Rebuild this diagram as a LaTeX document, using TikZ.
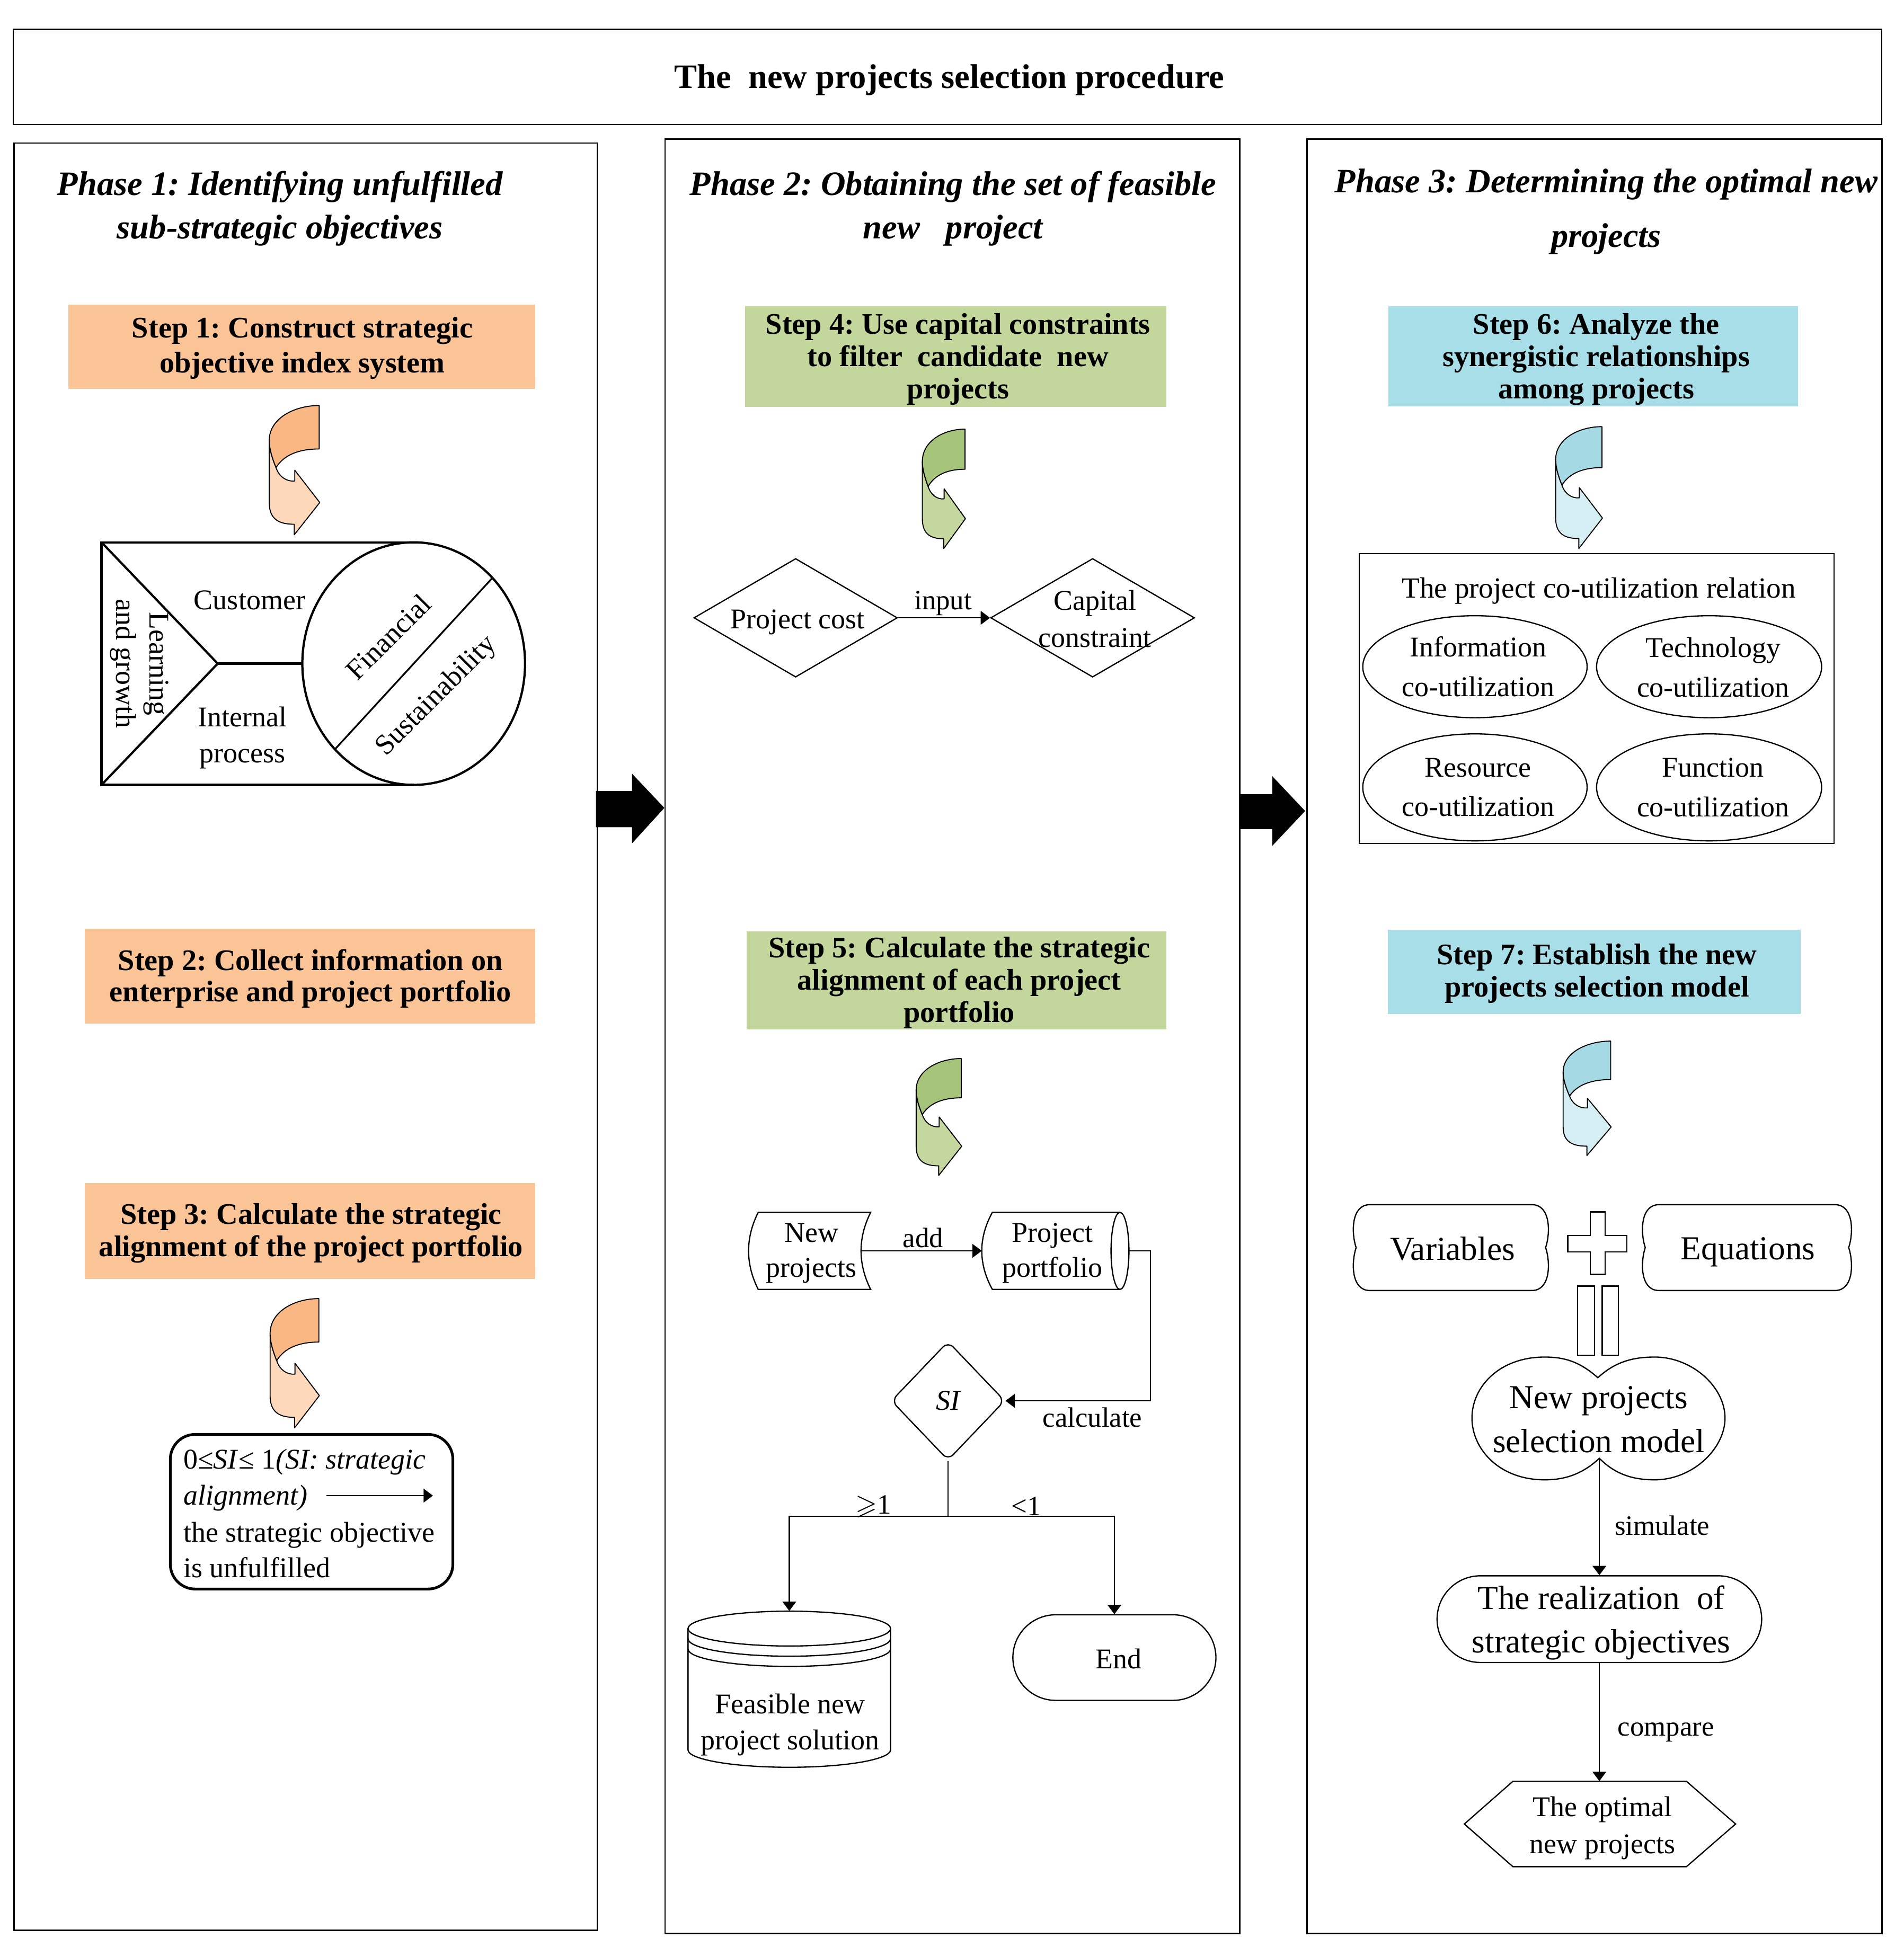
\documentclass[tikz,border=0pt]{standalone}
\usepackage{fontspec}
\setmainfont{Liberation Serif}
\usepackage{amssymb}
\usetikzlibrary{arrows.meta,shapes.geometric,shapes.misc}
\frenchspacing
\definecolor{orgBox}{HTML}{FBC497}
\definecolor{orgD}{HTML}{F9B784}
\definecolor{orgL}{HTML}{FDD8BB}
\definecolor{grnBox}{HTML}{C3D69B}
\definecolor{grnD}{HTML}{A6C47A}
\definecolor{grnL}{HTML}{C4D79E}
\definecolor{bluBox}{HTML}{A8DEE8}
\definecolor{bluD}{HTML}{A5D9E3}
\definecolor{bluL}{HTML}{D4EEF3}
\tikzset{
  phasebox/.style={draw, line width=1.2pt, inner sep=0pt},
  stepbox/.style={fill=#1, inner sep=0pt},
  steptext/.style={inner sep=0pt, align=center, font=\fontsize{24}{26}\selectfont\bfseries},
  phtitle/.style={align=center, inner sep=0pt, font=\fontsize{27.5}{35}\selectfont\bfseries\itshape},
  txt/.style={align=center, inner sep=0pt, font=\fontsize{23}{30}\selectfont},
  big/.style={align=center, inner sep=0pt, font=\fontsize{27}{35}\selectfont},
  lbl/.style={inner sep=0pt, font=\fontsize{22.5}{27}\selectfont},
  lw/.style={line width=1pt},
  conn/.style={line width=0.9pt},
  arr/.style={line width=0.9pt, -{Triangle[length=7.5pt,width=11pt]}},
  strat/.style={line width=1.8pt},
}
\newcommand{\bendarrow}[6]{%
\begin{scope}[shift={(#1,#2)}, xscale=#3, yscale=#4, line width=0.8pt, line join=round]
\filldraw[fill=#6] (0.01,0.27) -- (0.01,0.75) .. controls (0.01,0.88) and (0.2,0.918) .. (0.5,0.918) -- (0.5,1) -- (1,0.75) -- (0.51,0.5) -- (0.51,0.584) .. controls (0.35,0.59) and (0.2,0.55) .. (0.143,0.48) .. controls (0.06,0.4) and (0.01,0.33) .. cycle;
\filldraw[fill=#5] (0.99,0) -- (0.99,0.336) .. controls (0.6,0.336) and (0.3,0.38) .. (0.143,0.48) .. controls (0.06,0.4) and (0.01,0.33) .. (0.01,0.27) .. controls (0.01,0.1) and (0.5,0) .. cycle;
\end{scope}}
\newcommand{\notchbox}[4]{%
\draw[lw] ({#1+14},#3) -- ({#2-14},#3)
 .. controls ({#2+1},#3) and ({#2+1},{(#3+#4)/2-12}) .. ({#2-3},{(#3+#4)/2})
 .. controls ({#2+1},{(#3+#4)/2+12}) and ({#2+1},#4) .. ({#2-14},#4)
 -- ({#1+14},#4)
 .. controls ({#1-1},#4) and ({#1-1},{(#3+#4)/2+12}) .. ({#1+3},{(#3+#4)/2})
 .. controls ({#1-1},{(#3+#4)/2-12}) and ({#1-1},#3) .. cycle;}
\begin{document}
\begin{tikzpicture}[x=1pt,y=-1pt]
\useasboundingbox (0,0) rectangle (1530,1565.3);
\fill[white] (0,0) rectangle (1530,1565.3);

% title
\node[draw, line width=1pt, minimum width=1501.7pt, minimum height=76.3pt, inner sep=0pt] (title) at (761.55,61.85) {};
\node[inner sep=0pt, font=\fontsize{27.5}{33}\selectfont\bfseries] (titletxt) at (763,64.5) {The\ \ new projects selection procedure};

% phase boxes
\node[phasebox, minimum width=468.6pt, minimum height=1437pt] (ph1) at (245.7,833.5) {};
\node[phasebox, minimum width=462.1pt, minimum height=1442.6pt] (ph2) at (765.55,833.1) {};
\node[phasebox, minimum width=462.1pt, minimum height=1442.6pt] (ph3) at (1281.75,833.1) {};

% block arrows between phases
\fill[black] (479,636) -- (508,636) -- (508,622) -- (534,649.5) -- (508,678) -- (508,665) -- (479,665) -- cycle;
\fill[black] (996,638.5) -- (1022.6,638.5) -- (1022.6,624) -- (1049,652) -- (1022.6,680) -- (1022.6,666.5) -- (996,666.5) -- cycle;

% phase titles
\node[phtitle] (t1) at (225,167.5) {Phase 1: Identifying unfulfilled\\sub-strategic objectives};
\node[phtitle] (t2) at (766,167.5) {Phase 2: Obtaining the set of feasible\\new\ \ \ project};
\node[phtitle, font=\fontsize{27.5}{44}\selectfont\bfseries\itshape] (t3) at (1291,170) {Phase 3: Determining the optimal new\\projects};

% step boxes
\node[stepbox=orgBox, minimum width=375pt, minimum height=67.6pt] (s1) at (242.5,278.8) {};
\node[steptext, font=\fontsize{24}{28}\selectfont\bfseries] (s1t) at (243,279.8) {Step 1: Construct strategic\\objective index system};
\node[stepbox=orgBox, minimum width=362pt, minimum height=76.4pt] (s2) at (249,784.8) {};
\node[steptext, font=\fontsize{24}{25}\selectfont\bfseries] (s2t) at (249.5,786.8) {Step 2: Collect information on\\enterprise and project portfolio};
\node[stepbox=orgBox, minimum width=362pt, minimum height=77pt] (s3) at (249,989.5) {};
\node[steptext] (s3t) at (250,991.5) {Step 3: Calculate the strategic\\alignment of the project portfolio};
\node[stepbox=grnBox, minimum width=338.3pt, minimum height=80.9pt] (s4) at (768.2,286.8) {};
\node[steptext] (s4t) at (770,288.8) {Step 4: Use capital constraints\\to filter\ \ candidate\ \ new\\projects};
\node[stepbox=grnBox, minimum width=337.4pt, minimum height=78.9pt] (s5) at (768.7,788.2) {};
\node[steptext] (s5t) at (771,790.2) {Step 5: Calculate the strategic\\alignment of each project\\portfolio};
\node[stepbox=bluBox, minimum width=329.2pt, minimum height=80.2pt] (s6) at (1280.4,286.4) {};
\node[steptext] (s6t) at (1283,288.9) {Step 6: Analyze the\\synergistic relationships\\among projects};
\node[stepbox=bluBox, minimum width=332pt, minimum height=67.6pt] (s7) at (1281.4,781.4) {};
\node[steptext] (s7t) at (1283.5,782.6) {Step 7: Establish the new\\projects selection model};

% curved arrows
\bendarrow{216}{326}{41}{104}{orgD}{orgL}
\bendarrow{216.7}{1044}{40}{104}{orgD}{orgL}
\bendarrow{741}{345}{35}{96}{grnD}{grnL}
\bendarrow{736}{851}{37}{94}{grnD}{grnL}
\bendarrow{1250}{343}{38}{98}{bluD}{bluL}
\bendarrow{1256}{837}{39}{92}{bluD}{bluL}

% ---------- Phase 1: strategy diagram ----------
\draw[strat] (332.5,436) -- (81.6,436) -- (81.6,631) -- (332.5,631);
\draw[strat] (332.5,533.5) ellipse[x radius=89.5, y radius=97.5];
\draw[strat, line join=miter] (81.6,436) -- (175,533.5) -- (81.6,631);
\draw[strat] (175,533.5) -- (243,533.5);
\draw[line width=1.4pt] (395.8,464.6) -- (269.2,602.4);
\node[txt] (cust) at (200.6,482.5) {Customer};
\node[txt, font=\fontsize{23}{29}\selectfont] (intp) at (195,593) {Internal\\process};
\node[txt, rotate=-90, font=\fontsize{23}{26.5}\selectfont] (lg) at (112,533.5) {Learning\\and growth};
\node[txt, rotate=45] (fin) at (312,512) {Financial};
\node[txt, rotate=45] (sus) at (351,560) {Sustainability};

% SI box phase 1
\node[draw, rounded corners=20pt, line width=2.2pt, minimum width=227.1pt, minimum height=124.3pt, inner sep=0pt] (sibox) at (250.45,1215.35) {};
\node[txt, anchor=base west] (sl1) at (147.3,1181) {0≤\textit{SI}≤ 1\textit{(SI: strategic}};
\node[txt, anchor=base west] (sl2) at (147.3,1210) {\textit{alignment)}};
\node[txt, anchor=base west] (sl3) at (147.3,1239.5) {the strategic objective};
\node[txt, anchor=base west] (sl4) at (147.3,1268) {is unfulfilled};
\coordinate (sa1) at (262.3,1202.4);
\coordinate (sa2) at (348,1202.4);
\draw[arr] (sa1) -- (sa2);

% ---------- Phase 2 ----------
\node[diamond, draw, lw, minimum width=163.6pt, minimum height=95.4pt, inner sep=0pt] (pc) at (639.5,496.7) {};
\node[txt] (pctxt) at (641,500) {Project cost};
\node[diamond, draw, lw, minimum width=163.9pt, minimum height=95.4pt, inner sep=0pt] (cc) at (878.2,496.7) {};
\node[txt] (cctxt) at (880,497.6) {Capital\\constraint};
\draw[arr] (pc.east) -- (cc.west);
\node[lbl] (inl) at (758,485) {input};

% new projects (stored data shape)
\draw[lw] (609.4,974.7) -- (699.8,974.7) .. controls (689.5,995.3) and (689.5,1016) .. (699.8,1036.6) -- (609.4,1036.6) .. controls (599.1,1016) and (599.1,995.3) .. cycle;
\node[txt, font=\fontsize{23}{28.4}\selectfont] (np) at (652.2,1007.5) {New\\projects};
% project portfolio (direct access storage)
\draw[lw] (900.2,974.7) -- (797.6,974.7) .. controls (786.3,995.3) and (786.3,1016) .. (797.6,1036.6) -- (900.2,1036.6);
\draw[lw] (900.2,1005.65) ellipse[x radius=7.2, y radius=30.95];
\node[txt, font=\fontsize{23}{28.4}\selectfont] (pp) at (846,1007.5) {Project\\portfolio};
\coordinate (npe) at (692.1,1005.6);
\coordinate (ppw) at (789.1,1005.6);
\coordinate (ppe) at (907.4,1005.6);
\draw[arr] (npe) -- (ppw);
\node[lbl] (addl) at (742,995) {add};

\node[diamond, draw, lw, rounded corners=6pt, minimum width=91.3pt, minimum height=95.6pt, inner sep=0pt,
  font=\fontsize{23}{28}\selectfont\itshape] (si) at (762,1126.2) {SI};
\draw[arr] (ppe) -- ++(17.1,0) |- (si.east);
\node[lbl] (calc) at (878,1139.5) {calculate};

% feasible solution cylinder
\node[minimum width=162.8pt, minimum height=125.5pt, inner sep=0pt] (fs) at (634.4,1358.05) {};
\draw[lw] (553,1309.3) -- (553,1406.8) arc[start angle=180, end angle=0, x radius=81.4, y radius=14] -- (715.8,1309.3);
\draw[lw] (634.4,1309.3) ellipse[x radius=81.4, y radius=14];
\draw[lw] (553,1317.5) arc[start angle=180, end angle=0, x radius=81.4, y radius=14];
\draw[lw] (553,1325.7) arc[start angle=180, end angle=0, x radius=81.4, y radius=14];
\node[txt, font=\fontsize{23}{29}\selectfont] (fstxt) at (635,1386.5) {Feasible new\\project solution};

\node[rounded rectangle, draw, lw, minimum width=163.2pt, minimum height=68.8pt, inner sep=0pt] (endn) at (895.7,1332.6) {};
\node[txt] (endtxt) at (899,1333.5) {End};

\coordinate (split) at (762,1219);
\draw[conn] (si.south) -- (split);
\draw[arr] (split) -| (fs.north);
\draw[arr] (split) -| (endn.north);
\node[lbl] (ge) at (702,1211) {$\geqslant$1};
\node[lbl] (lt) at (825,1211) {<1};

% ---------- Phase 3 ----------
\node[draw, lw, minimum width=381.6pt, minimum height=233pt, inner sep=0pt] (rel) at (1283.2,561.5) {};
\node[txt, font=\fontsize{23.5}{30}\selectfont] (reltxt) at (1285,475) {The project co-utilization relation};
\node[ellipse, draw, lw, minimum width=180.3pt, minimum height=82pt, inner sep=0pt] (info) at (1185.5,536) {};
\node[ellipse, draw, lw, minimum width=180.9pt, minimum height=82pt, inner sep=0pt] (tech) at (1373.7,536) {};
\node[ellipse, draw, lw, minimum width=180.3pt, minimum height=86pt, inner sep=0pt] (res) at (1185.5,633) {};
\node[ellipse, draw, lw, minimum width=180.9pt, minimum height=86pt, inner sep=0pt] (func) at (1373.7,633) {};
\node[txt, font=\fontsize{23}{31.8}\selectfont] (infot) at (1188,536) {Information\\co-utilization};
\node[txt, font=\fontsize{23}{31.8}\selectfont] (techt) at (1377,536.5) {Technology\\co-utilization};
\node[txt, font=\fontsize{23}{31.8}\selectfont] (rest) at (1188,633) {Resource\\co-utilization};
\node[txt, font=\fontsize{23}{31.8}\selectfont] (funct) at (1377,633) {Function\\co-utilization};

% variables + equations
\notchbox{1087}{1245.3}{968.5}{1037.5}
\notchbox{1319.4}{1488.9}{968.5}{1037.5}
\node[big] (vars) at (1167.5,1004) {Variables};
\node[big] (eqs) at (1405,1006.5) {Equations};
\draw[lw] (1278.1,974.3) -- (1290.1,974.3) -- (1290.1,993.2) -- (1307.7,993.2) -- (1307.7,1006.5) -- (1290.1,1006.5) -- (1290.1,1024.6) -- (1278.1,1024.6) -- (1278.1,1006.5) -- (1260.1,1006.5) -- (1260.1,993.2) -- (1278.1,993.2) -- cycle;
\draw[lw] (1268.1,1034) rectangle (1281.5,1089.6);
\draw[lw] (1287.8,1034) rectangle (1300.9,1089.6);

% model cloud
\draw[lw] (1284.3,1107.6) .. controls (1270,1095) and (1258,1091) .. (1241.6,1091)
  .. controls (1205,1091) and (1183.1,1115) .. (1183.1,1140)
  .. controls (1183.1,1165) and (1205,1189.7) .. (1241.6,1189.7)
  .. controls (1258,1189.7) and (1272,1185) .. (1285.5,1172.4)
  .. controls (1298,1185) and (1312,1189.7) .. (1330,1189.7)
  .. controls (1360,1189.7) and (1386.5,1165) .. (1386.5,1140)
  .. controls (1386.5,1115) and (1360,1091) .. (1330,1091)
  .. controls (1312,1091) and (1298,1095) .. cycle;
\node[big] (nm) at (1285,1141.2) {New projects\\selection model};
\coordinate (nmb) at (1285.5,1172.4);

\node[rounded rectangle, draw, lw, minimum width=260.9pt, minimum height=69.7pt, inner sep=0pt] (rr) at (1285.5,1301.7) {};
\node[big, font=\fontsize{27}{34.8}\selectfont] (rrt) at (1287,1304.5) {The realization\ \ of\\strategic objectives};
\draw[arr] (nmb) -- (rr.north);
\node[lbl] (siml) at (1336,1226.5) {simulate};

\node[minimum width=218pt, minimum height=68.6pt, inner sep=0pt] (opt) at (1285.5,1466.4) {};
\draw[lw] (1177,1466.4) -- (1216,1432.1) -- (1355.5,1432.1) -- (1395,1466.4) -- (1355.5,1500.7) -- (1216,1500.7) -- cycle;
\node[txt, font=\fontsize{23}{29.5}\selectfont] (optt) at (1288,1469.7) {The optimal\\new projects};
\draw[arr] (rr.south) -- (opt.north);
\node[lbl] (cmpl) at (1339,1392.5) {compare};
\end{tikzpicture}
\end{document}
